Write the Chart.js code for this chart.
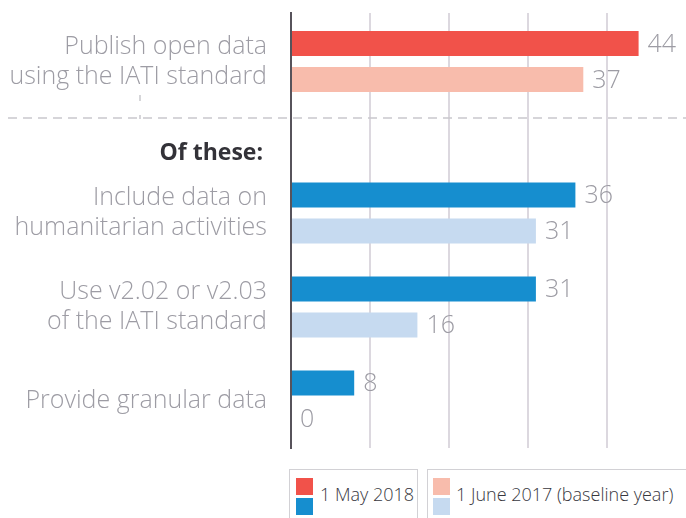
<!DOCTYPE html>
<html>
<head>
    <title>IATI publishers</title>
    <script src="https://cdn.jsdelivr.net/npm/chart.js"></script>
    <style>
        body {
            margin: 0;
            background: #ffffff;
            font-family: "Open Sans", sans-serif;
            overflow: hidden;
        }
        .chart-box {
            position: absolute;
            left: 0;
            width: 686px;
        }
        #topBox { top: 0; height: 110px; }
        #subBox { top: 110px; height: 350px; }
        .legend-box {
            position: absolute;
            top: 469px;
            height: 70px;
            border: 1px solid #d2d1d5;
            box-sizing: border-box;
        }
        .swatch {
            position: absolute;
            width: 17px;
            height: 17px;
        }
        .legend-text {
            position: absolute;
            top: 12px;
            font-size: 18px;
            font-weight: 300;
            color: #38373e;
            white-space: nowrap;
        }
    </style>
</head>
<body>

    <!-- first row and the "of these" rows are two charts sharing one x scale -->
    <div class="chart-box" id="topBox"><canvas id="topChart"></canvas></div>
    <div class="chart-box" id="subBox"><canvas id="subChart"></canvas></div>
    <div id="legend"></div>

    <script>
        // Chart data
        const categories = [
            ['Publish open data', 'using the IATI standard'],
            ['Include data on', 'humanitarian activities'],
            ['Use v2.02 or v2.03', 'of the IATI standard'],
            'Provide granular data'
        ];
        const subHeading = 'Of these:';
        const seriesNames = ['1 May 2018', '1 June 2017 (baseline year)'];
        const may2018 = [44, 36, 31, 8];
        const june2017 = [37, 31, 16, 0];

        // Colours: first row is red, the "of these" rows are blue
        const topColours = ['#F1524A', '#F8BCAC'];
        const subColours = ['#168ECF', '#C6DAF0'];
        const labelGrey = '#9D9CA4';
        const fontFamily = '"Open Sans", sans-serif';

        // Legend boxes built from the series names
        const legendBoxes = [
            { left: 289, width: 129, swatchLeft: 6, textLeft: 30 },
            { left: 427, width: 300, swatchLeft: 5, textLeft: 28 }
        ];
        const legendEl = document.getElementById('legend');
        seriesNames.forEach((name, i) => {
            const box = document.createElement('div');
            box.className = 'legend-box';
            box.style.left = legendBoxes[i].left + 'px';
            box.style.width = legendBoxes[i].width + 'px';
            box.innerHTML =
                '<span class="swatch" style="left:' + legendBoxes[i].swatchLeft + 'px;top:8px;background:' + topColours[i] + '"></span>' +
                '<span class="swatch" style="left:' + legendBoxes[i].swatchLeft + 'px;top:28px;background:' + subColours[i] + '"></span>' +
                '<span class="legend-text" style="left:' + legendBoxes[i].textLeft + 'px">' + name + '</span>';
            legendEl.appendChild(box);
        });

        // Value labels at the end of each bar
        const valueLabels = {
            id: 'valueLabels',
            afterDatasetsDraw(chart) {
                const ctx = chart.ctx;
                ctx.save();
                ctx.font = '300 25px ' + fontFamily;
                ctx.fillStyle = labelGrey;
                ctx.textBaseline = 'middle';
                chart.data.datasets.forEach((ds, i) => {
                    chart.getDatasetMeta(i).data.forEach((bar, j) => {
                        ctx.fillText(ds.data[j], bar.x + 9, bar.y + 1);
                    });
                });
                ctx.restore();
            }
        };

        // Dashed separator (full line in the lower chart, small mark in both)
        const separator = {
            id: 'separator',
            beforeDatasetsDraw(chart, args, opts) {
                const ctx = chart.ctx;
                ctx.save();
                ctx.strokeStyle = '#C9C8CD';
                ctx.lineWidth = 1.5;
                ctx.setLineDash([9, 6]);
                ctx.beginPath();
                if (opts.line) {
                    ctx.moveTo(8, opts.y);
                    ctx.lineTo(chart.width, opts.y);
                }
                ctx.moveTo(140, opts.markFrom);
                ctx.lineTo(140, opts.markTo);
                ctx.stroke();
                ctx.restore();
            }
        };

        const xScale = {
            min: 0,
            max: 50,
            ticks: { display: false, stepSize: 10 },
            grid: {
                color: (c) => (c.tick && (c.tick.value === 0 || c.tick.value === 50)) ? 'rgba(0,0,0,0)' : '#DCD8DF',
                lineWidth: 2,
                drawTicks: false
            },
            border: { display: false },
            afterFit: (scale) => {
                scale.height = 0;
                scale.paddingLeft = 0;
                scale.paddingRight = 0;
            }
        };

        function rowAxis(labels, extra, tickOpts) {
            return Object.assign({
                type: 'category',
                labels: labels,
                position: 'left',
                offset: true,
                grid: { display: false, drawTicks: false },
                border: { display: true, color: '#57535B', width: 2 },
                ticks: Object.assign({
                    autoSkip: false,
                    padding: 24,
                    color: labelGrey,
                    font: { family: fontFamily, size: 25, weight: '300', lineHeight: 1.2 }
                }, tickOpts || {}),
                afterFit: (scale) => {
                    scale.width = 291;
                    scale.paddingTop = 0;
                    scale.paddingBottom = 0;
                }
            }, extra || {});
        }

        function barSet(name, values, axis, colour, catPct) {
            return {
                label: name,
                data: values,
                yAxisID: axis,
                backgroundColor: colour,
                categoryPercentage: catPct,
                barPercentage: 0.694
            };
        }

        function baseOptions(padding, scales, sepOpts) {
            return {
                indexAxis: 'y',
                responsive: true,
                maintainAspectRatio: false,
                animation: false,
                layout: { padding: padding },
                plugins: {
                    legend: { display: false },
                    tooltip: { enabled: false },
                    separator: sepOpts
                },
                scales: Object.assign({ x: xScale }, scales)
            };
        }

        // Top chart: first row
        const topChart = new Chart(document.getElementById('topChart'), {
            type: 'bar',
            data: {
                datasets: [
                    barSet(seriesNames[0], may2018.slice(0, 1), 'yTop', topColours[0], 0.742),
                    barSet(seriesNames[1], june2017.slice(0, 1), 'yTop', topColours[1], 0.742)
                ]
            },
            options: baseOptions(
                { top: 13, bottom: 0, left: 0, right: 0 },
                { yTop: rowAxis(categories.slice(0, 1)) },
                { line: false, markFrom: 95, markTo: 101 }
            ),
            plugins: [separator, valueLabels]
        });

        // Lower chart: "Of these:" heading and the three sub rows
        const subChart = new Chart(document.getElementById('subChart'), {
            type: 'bar',
            data: {
                datasets: [
                    barSet(seriesNames[0], may2018.slice(1), 'yBot', subColours[0], 0.766),
                    barSet(seriesNames[1], june2017.slice(1), 'yBot', subColours[1], 0.766)
                ]
            },
            options: baseOptions(
                { top: 0, bottom: 12, left: 0, right: 0 },
                {
                    yMid: rowAxis([subHeading], { stack: 'rows', stackWeight: 56, weight: 2 }, {
                        padding: 28,
                        color: '#333238',
                        labelOffset: 15,
                        font: { family: fontFamily, size: 23, weight: 'bold', lineHeight: 1.2 }
                    }),
                    yBot: rowAxis(categories.slice(1), { stack: 'rows', stackWeight: 282, weight: 1 })
                },
                { line: true, y: 8, markFrom: 5, markTo: 9 }
            ),
            plugins: [separator, valueLabels]
        });
    </script>
</body>
</html>
